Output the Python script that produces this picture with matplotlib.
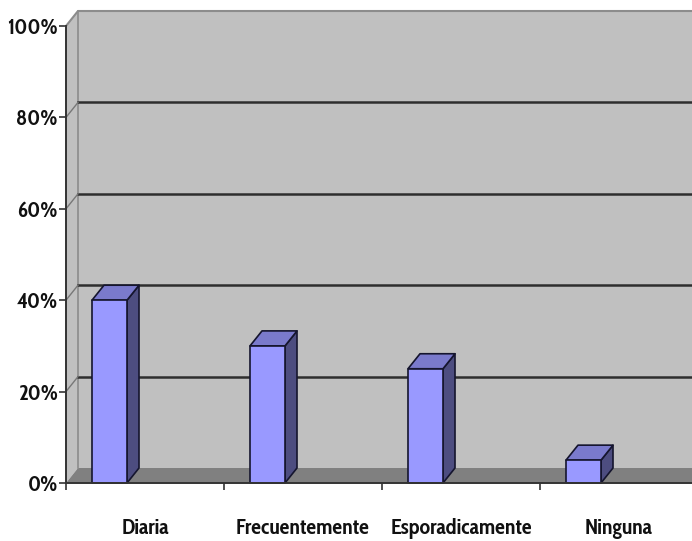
import matplotlib
matplotlib.use('Agg')
import matplotlib.pyplot as plt
from matplotlib.patches import Polygon

categories = ['Diaria', 'Frecuentemente', 'Esporadicamente', 'Ninguna']
values = [40, 30, 25, 5]
y_ticks = [0, 20, 40, 60, 80, 100]
y_labels = ['0%', '20%', '40%', '60%', '80%', '100%']

W, H = 692, 541
LEFT, BOTTOM, TOP = 66, 483, 26
CAT_W = 158

family = ['Cabin Condensed', 'Liberation Sans']

fig = plt.figure(figsize=(W / 100, H / 100), dpi=100)
ax = fig.add_axes([LEFT / W, (H - BOTTOM) / H, (W - LEFT) / W, (BOTTOM - TOP) / H])
ax.set_xlim(0, (W - LEFT) / CAT_W)
ax.set_ylim(0, 100)

# 3d depth of the chart box, converted from pixels to data units
dx = 12 / CAT_W
dy = 15 * 100 / (BOTTOM - TOP)
x_end = ax.get_xlim()[1]


def poly(pts, fc, ec='none', lw=0, z=1):
    ax.add_patch(Polygon(pts, closed=True, facecolor=fc, edgecolor=ec, linewidth=lw,
                         zorder=z, clip_on=False, joinstyle='round'))


# walls and floor
poly([(dx, dy), (x_end, dy), (x_end, 100 + dy), (dx, 100 + dy)], '#c0c0c0')
poly([(0, 0), (dx, dy), (dx, 100 + dy), (0, 100)], '#c0c0c0')
poly([(0, 0), (x_end, 0), (x_end, dy), (dx, dy)], '#808080')
ax.plot([0, dx, x_end], [100, 100 + dy, 100 + dy], color='#8c8c8c', lw=1.5, zorder=2, clip_on=False)
ax.plot([dx, dx], [dy, 100 + dy], color='#8c8c8c', lw=1.2, zorder=2, clip_on=False)

# gridlines run across the side wall and the back wall
for v in y_ticks[1:-1]:
    ax.plot([dx, x_end], [v + dy, v + dy], color='#2e2e2e', lw=1.8, zorder=3, clip_on=False)
    ax.plot([0, dx], [v, v + dy], color='#777777', lw=1.0, zorder=3, clip_on=False)

# bars
bar_w = 35 / CAT_W
bar_off = 26 / CAT_W
for i, v in enumerate(values):
    x0 = i + bar_off
    x1 = x0 + bar_w
    edge = '#15152e'
    poly([(x1, 0), (x1 + dx, dy), (x1 + dx, v + dy), (x1, v)], '#4d4d80', edge, 1.2, 4)
    poly([(x0, v), (x1, v), (x1 + dx, v + dy), (x0 + dx, v + dy)], '#7a7acc', edge, 1.2, 4)
    poly([(x0, 0), (x1, 0), (x1, v), (x0, v)], '#9999ff', edge, 1.2, 5)

for s in ['top', 'right']:
    ax.spines[s].set_visible(False)
for s in ['left', 'bottom']:
    ax.spines[s].set_color('#333333')
    ax.spines[s].set_linewidth(1.4)
    ax.spines[s].set_zorder(6)

ax.set_yticks(y_ticks)
ax.set_yticklabels(y_labels, fontsize=15.5, fontweight='bold', family=family, color='#111111')
ax.set_xticks(range(0, 5))
ax.set_xticklabels([])
ax.set_xlim(0, x_end)
ax.tick_params(axis='both', length=5, width=1.2, color='#333333', pad=1)

for i, c in enumerate(categories):
    ax.annotate(c, xy=(i + 0.5, 0), xycoords='data', xytext=(0, -37), textcoords='offset points',
                ha='center', va='baseline', fontsize=15.7, fontweight='bold', family=family, color='#111111')

fig.savefig('out.png', dpi=100)
